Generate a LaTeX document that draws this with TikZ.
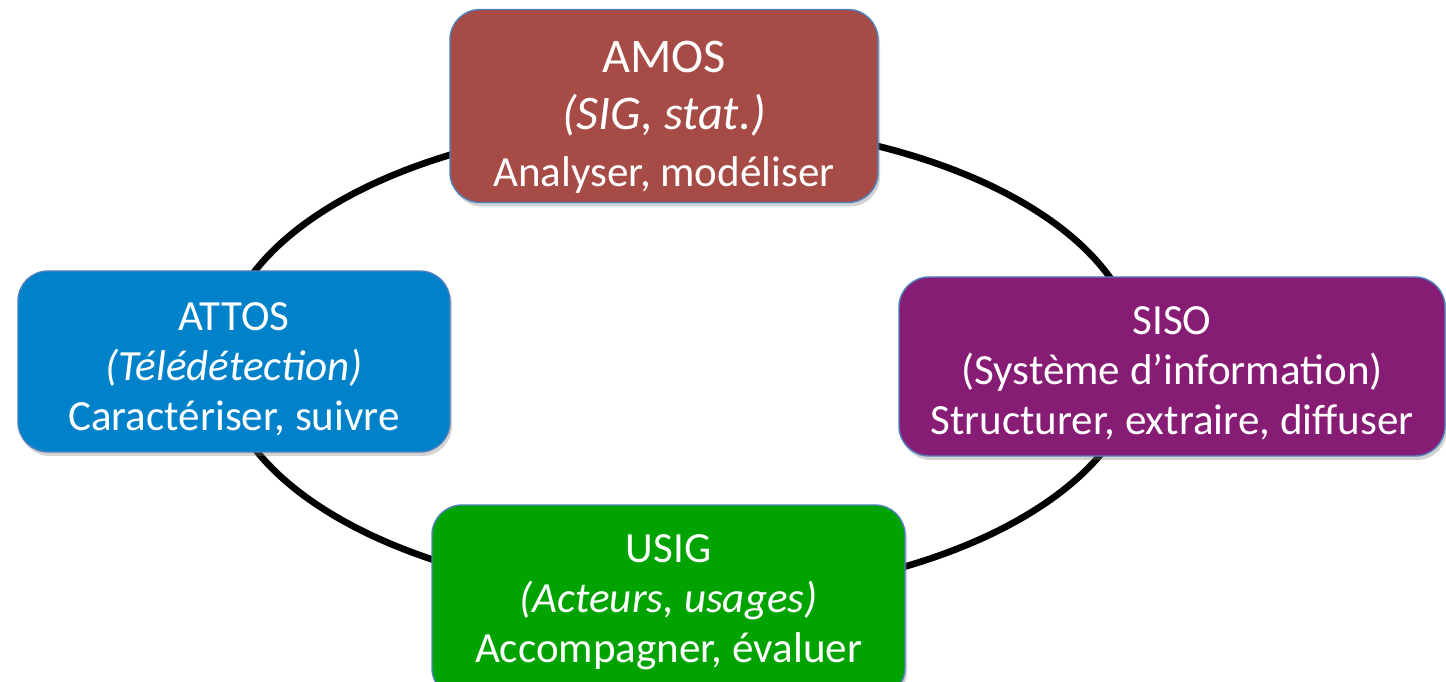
\documentclass[tikz,border=0pt]{standalone}
\usepackage{fontspec}
\setmainfont{Carlito}
\usetikzlibrary{shadows}

\definecolor{amosred}{RGB}{166,75,69}
\definecolor{attosblue}{RGB}{0,130,202}
\definecolor{sisopurple}{RGB}{135,28,117}
\definecolor{usiggreen}{RGB}{0,163,0}
\definecolor{edgeblue}{RGB}{79,129,189}

\newcommand{\haut}[1]{\rule{0pt}{#1}}

\tikzset{
  pole/.style={draw=edgeblue, line width=0.8pt, rounded corners=0.6cm,
    text=white, align=center, inner sep=0pt,
    font=\fontsize{24.5}{28.5}\selectfont,
    drop shadow={opacity=0.35, shadow xshift=0.04cm, shadow yshift=-0.08cm}},
  ring/.style={line width=3.8pt}
}

\begin{document}
\begin{tikzpicture}
\useasboundingbox (0,0) rectangle (28.92,13.62);

\def\ringX{9.17}
\def\ringY{4.74}
\coordinate (centre) at (13.6,6.42);
\draw[ring] (centre) ellipse [x radius=\ringX, y radius=\ringY];

% les quatre poles
\node[pole, fill=amosred, minimum width=8.56cm, minimum height=3.86cm,
  font=\fontsize{24.5}{32.5}\selectfont] (amos) at (13.28,11.50)
  {{\fontsize{27.5}{32.5}\selectfont\haut{31pt}AMOS}\\
   {\fontsize{27.5}{32.5}\selectfont\itshape (SIG, stat.)}\\
   Analyser, modéliser};
\node[pole, fill=attosblue, minimum width=8.64cm, minimum height=3.62cm] (attos) at (4.68,6.39)
  {\haut{24.5pt}ATTOS\\ \textit{(Télédétection)}\\ Caractériser, suivre};
\node[pole, fill=sisopurple, minimum width=10.92cm, minimum height=3.58cm] (siso) at (23.44,6.29)
  {\haut{23.4pt}SISO\\ (Système d’information)\\ Structurer, extraire, diffuser};
\node[pole, fill=usiggreen, minimum width=9.46cm, minimum height=3.86cm] (usig) at (13.37,1.59)
  {\haut{17.2pt}USIG\\ \textit{(Acteurs, usages)}\\ Accompagner, évaluer};
\end{tikzpicture}
\end{document}
